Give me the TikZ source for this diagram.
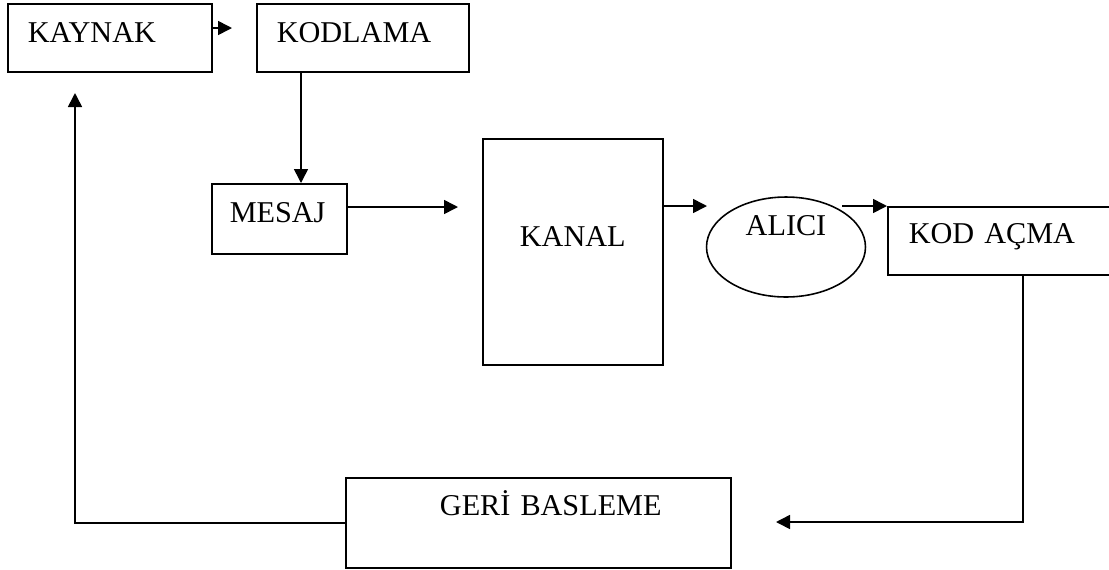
\documentclass[tikz,border=0pt]{standalone}
\usepackage{fontspec}
\setmainfont{Liberation Serif}
\usetikzlibrary{arrows.meta,shapes.geometric}

\begin{document}
\begin{tikzpicture}[x=0.02cm, y=-0.02cm, line width=0.9pt, font=\fontsize{17.2}{20}\selectfont,
	box/.style = {draw, rectangle, anchor=north west, inner ysep=0pt, align=left},
	arr/.style = {-{Triangle[length=0.28cm, width=0.28cm]}}]
		\useasboundingbox (0,0) rectangle (1109,569);
		\node[box, inner xsep=0.4cm, text width=3.28cm, text height=0.78cm, text depth=0.58cm] (kaynak) at (7,3) {KAYNAK};
		\node[box, inner xsep=0.4cm, text width=3.44cm, text height=0.78cm, text depth=0.58cm] (kodlama) at (256,3) {KODLAMA};
		\node[box, inner xsep=0.36cm, text width=1.98cm, text height=0.78cm, text depth=0.62cm] (mesaj) at (211,183) {MESAJ};
		\node[box, align=center, inner xsep=0.3cm, text width=3.0cm, text height=2.16cm, text depth=2.36cm] (kanal) at (482,138) {KANAL};
		\node[draw, ellipse, minimum width=3.18cm, minimum height=2cm, inner sep=0pt, text height=0.4cm, text depth=0.88cm] (alici) at (786,247) {ALICI};
		\node[box, inner xsep=0.42cm, text width=3.72cm, text height=0.74cm, text depth=0.62cm] (kodacma) at (887,206) {KOD AÇMA};
		\node[box, align=center, inner xsep=0.2cm, text width=7.3cm, text height=0.76cm, text depth=1.04cm] (geri) at (345,477) {\hspace*{0.5cm}GERİ BASLEME};
		
		\coordinate (t1) at (232,28);
		\coordinate (t2) at (458,207);
		\coordinate (t3) at (707,206);
		\coordinate (s4) at (842,206);
		\coordinate (t5) at (776,522);
		\coordinate (t6) at (75,93);
		
		\draw[arr] (kaynak.east |- t1) -- (t1);
		\draw[arr] (kodlama.south -| 301,0) -- (mesaj.north -| 301,0);
		\draw[arr] (mesaj.east |- t2) -- (t2);
		\draw[arr] (kanal.east |- t3) -- (t3);
		\draw[arr] (s4) -- (kodacma.north west);
		\draw[arr] (kodacma.south -| 1023,0) |- (t5);
		\draw[arr] (geri.west) -| (t6);
	\end{tikzpicture}
\end{document}
